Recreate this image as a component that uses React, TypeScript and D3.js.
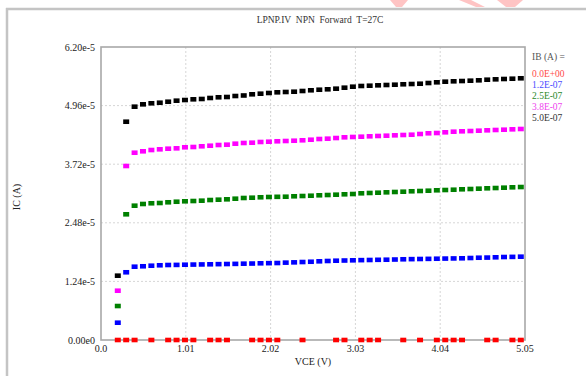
import React from "react";
import * as d3 from "d3";

// VCE sweep (V)
const vce = [0.2, 0.3, 0.4, 0.5, 0.6, 0.7, 0.8, 0.9, 1.0, 1.1, 1.2, 1.3, 1.4, 1.5, 1.6, 1.7, 1.8, 1.9, 2.0, 2.1, 2.2, 2.3, 2.4, 2.5,
  2.6, 2.7, 2.8, 2.9, 3.0, 3.1, 3.2, 3.3, 3.4, 3.5, 3.6, 3.7, 3.8, 3.9, 4.0, 4.1, 4.2, 4.3, 4.4, 4.5, 4.6, 4.7, 4.8, 4.9, 5.0];

// IC values in units of 1e-5 A
const icIb1 = [0.366, 1.433, 1.551, 1.560, 1.572, 1.581, 1.587, 1.589, 1.593, 1.596, 1.599, 1.602, 1.605, 1.608, 1.611, 1.615, 1.618, 1.623, 1.626, 1.629, 1.637, 1.643, 1.650, 1.656,
  1.665, 1.672, 1.678, 1.682, 1.686, 1.690, 1.693, 1.697, 1.699, 1.703, 1.708, 1.711, 1.714, 1.717, 1.720, 1.723, 1.726, 1.729, 1.735, 1.741, 1.744, 1.750, 1.756, 1.759, 1.763];
const icIb2 = [0.719, 2.660, 2.842, 2.878, 2.893, 2.899, 2.914, 2.926, 2.935, 2.941, 2.948, 2.962, 2.969, 2.977, 2.990, 3.005, 3.011, 3.020, 3.026, 3.030, 3.032, 3.041, 3.047, 3.053,
  3.062, 3.068, 3.075, 3.083, 3.089, 3.104, 3.111, 3.117, 3.125, 3.132, 3.138, 3.147, 3.153, 3.159, 3.168, 3.174, 3.180, 3.189, 3.195, 3.202, 3.210, 3.216, 3.223, 3.231, 3.237];
const icIb3 = [1.043, 3.682, 3.963, 3.993, 4.020, 4.035, 4.048, 4.056, 4.078, 4.084, 4.099, 4.111, 4.126, 4.133, 4.154, 4.169, 4.175, 4.190, 4.196, 4.205, 4.211, 4.217, 4.226, 4.238,
  4.253, 4.260, 4.274, 4.289, 4.296, 4.302, 4.310, 4.317, 4.323, 4.331, 4.338, 4.344, 4.359, 4.374, 4.380, 4.395, 4.408, 4.416, 4.422, 4.429, 4.437, 4.444, 4.450, 4.458, 4.465];
const icIb4 = [1.361, 4.619, 4.937, 4.987, 5.009, 5.021, 5.042, 5.064, 5.078, 5.093, 5.100, 5.121, 5.136, 5.142, 5.163, 5.174, 5.199, 5.212, 5.227, 5.241, 5.248, 5.254, 5.269, 5.284,
  5.296, 5.305, 5.318, 5.339, 5.360, 5.375, 5.381, 5.389, 5.396, 5.402, 5.411, 5.417, 5.423, 5.438, 5.453, 5.466, 5.474, 5.480, 5.487, 5.495, 5.508, 5.516, 5.523, 5.529, 5.538];

// IB = 0 curve: visible points (all at 0)
const vceIb0 = [0.2, 0.3, 0.4, 0.6, 0.8, 0.9, 1.0, 1.1, 1.3, 1.4, 1.5, 1.8, 1.9, 2.0, 2.1, 2.4, 2.8, 2.9, 3.1, 3.2, 3.3, 3.6, 3.8, 4.0, 4.1, 4.2, 4.3, 4.6, 4.7, 4.9, 5.0];
const icIb0 = vceIb0.map(() => 0);

const legendLabels = ["0.0E+00", "1.2E-07", "2.5E-07", "3.8E-07", "5.0E-07"];
const seriesColors = ["#ff0000", "#0000ff", "#008000", "#ff00ff", "#000000"];
const legendColors = ["#ff4a4a", "#4a4aff", "#2a8a2a", "#ee44ee", "#333333"];

const xTicks = [0, 1.01, 2.02, 3.03, 4.04, 5.05];
const xTickLabels = ["0.0", "1.01", "2.02", "3.03", "4.04", "5.05"];
const yTicks = [0, 1.24, 2.48, 3.72, 4.96, 6.2];
const yTickLabels = ["0.00e0", "1.24e-5", "2.48e-5", "3.72e-5", "4.96e-5", "6.20e-5"];

const title = "LPNP.IV  NPN  Forward  T=27C";

export default function App() {
  const W = 586, H = 376;
  const L = 101, R = 525, T = 47, B = 340;
  const x = d3.scaleLinear().domain([0, 5.05]).range([L, R]);
  const y = d3.scaleLinear().domain([0, 6.2]).range([B, T]);
  const font = "'Liberation Serif', 'DejaVu Serif', serif";

  const series = [
    { xs: vceIb0, ys: icIb0, color: seriesColors[0] },
    { xs: vce, ys: icIb1, color: seriesColors[1] },
    { xs: vce, ys: icIb2, color: seriesColors[2] },
    { xs: vce, ys: icIb3, color: seriesColors[3] },
    { xs: vce, ys: icIb4, color: seriesColors[4] },
  ];
  const mw = 6, mh = 4.6;

  return (
    <svg width={W} height={H} style={{ position: "absolute", left: 0, top: 0, display: "block", background: "#fff" }}>
      <rect x={0} y={0} width={W} height={H} fill="#fff" />
      {/* watermark fragments */}
      <g fill="#ffc4c4">
        <polygon points="390,0 408,0 402,7 396,7" />
        <polygon points="459,0 471,0 485,7 476,7" />
        <polygon points="497,0 523,0 515,7 506,7" />
      </g>
      {/* outer frame */}
      <line x1={6} x2={W} y1={9} y2={9} stroke="#c4c4c4" strokeWidth={2.5} />
      <line x1={7} x2={7} y1={8} y2={H} stroke="#c4c4c4" strokeWidth={2.5} />

      <text x={320} y={23} textAnchor="middle" fontFamily={font} fontSize={9.5} fill="#333" style={{ whiteSpace: "pre" }}>{title}</text>

      {/* grid */}
      {xTicks.slice(1, -1).map((t, i) => (
        <line key={"gx" + i} x1={x(t)} x2={x(t)} y1={T} y2={B} stroke="#d6d6d6" strokeWidth={1} strokeDasharray="2,2" />
      ))}
      {yTicks.slice(1, -1).map((t, i) => (
        <line key={"gy" + i} x1={L} x2={R} y1={y(t)} y2={y(t)} stroke="#d6d6d6" strokeWidth={1} strokeDasharray="2,2" />
      ))}

      {/* plot frame */}
      <rect x={L} y={T} width={R - L} height={B - T} fill="none" stroke="#a8a8a8" strokeWidth={1.6} />

      {/* tick labels */}
      {yTicks.map((t, i) => (
        <text key={"yt" + i} x={L - 6} y={y(t)} dy="0.35em" textAnchor="end" fontFamily={font} fontSize={10} fill="#222">{yTickLabels[i]}</text>
      ))}
      {xTicks.map((t, i) => (
        <text key={"xt" + i} x={x(t)} y={352} textAnchor="middle" fontFamily={font} fontSize={10} fill="#222">{xTickLabels[i]}</text>
      ))}

      {/* axis titles */}
      <text x={313} y={365} textAnchor="middle" fontFamily={font} fontSize={10} fill="#222">VCE (V)</text>
      <text transform="translate(20,197) rotate(-90)" textAnchor="middle" fontFamily={font} fontSize={10} fill="#222">IC (A)</text>

      {/* data markers */}
      {series.map((s, si) => (
        <g key={"s" + si} fill={s.color}>
          {s.xs.map((v, i) => (
            <rect key={i} x={x(v) - mw / 2} y={y(s.ys[i]) - mh / 2} width={mw} height={mh} />
          ))}
        </g>
      ))}

      {/* legend */}
      <text x={532} y={57} dy="0.35em" fontFamily={font} fontSize={9.5} fill="#555">IB (A) =</text>
      {legendLabels.map((lab, i) => (
        <text key={"lg" + i} x={532} y={74 + i * 10.8} dy="0.35em" fontFamily={font} fontSize={9.5} fill={legendColors[i]}>{lab}</text>
      ))}
    </svg>
  );
}
